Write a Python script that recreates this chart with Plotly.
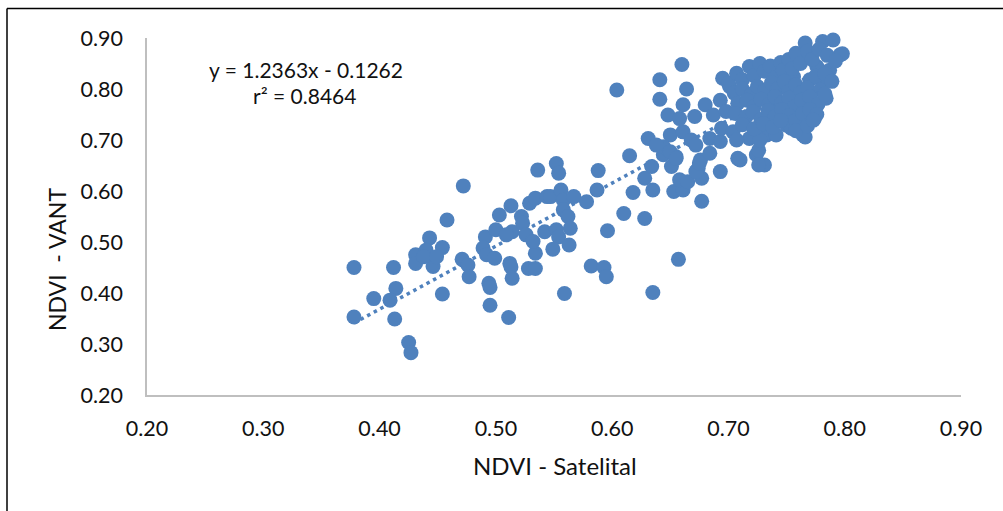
import plotly.graph_objects as go

# NDVI - Satelital (x) and NDVI - VANT (y)
sat = [
    0.378, 0.378, 0.412, 0.414, 0.409, 0.395, 0.413, 0.425, 0.427,
    0.443, 0.454, 0.431, 0.431, 0.440, 0.446, 0.438, 0.449,
    0.458, 0.472, 0.454, 0.471, 0.476, 0.477, 0.494, 0.495, 0.495, 0.511,
    0.491, 0.489, 0.492, 0.499, 0.503, 0.500, 0.513, 0.514, 0.509,
    0.512, 0.513, 0.514, 0.522, 0.523, 0.526, 0.528, 0.534, 0.534, 0.532, 0.529, 0.534, 0.536, 0.542, 0.544,
    0.552, 0.554, 0.588, 0.615,
    0.547, 0.556, 0.558, 0.567, 0.578,
    0.558, 0.562, 0.564, 0.552, 0.554, 0.549, 0.563,
    0.559, 0.582, 0.593, 0.595, 0.596, 0.610, 0.628, 0.587, 0.618, 0.628, 0.634, 0.635, 0.657, 0.635,
    0.653, 0.661, 0.658, 0.665, 0.677, 0.677, 0.674, 0.676, 0.644, 0.655, 0.651,
    0.660, 0.641, 0.641, 0.664, 0.604,
    0.648, 0.658, 0.661, 0.671, 0.680, 0.693, 0.687, 0.698, 0.695, 0.701,
    0.631, 0.650, 0.661, 0.668, 0.644, 0.650, 0.655, 0.638, 0.672, 0.684, 0.672, 0.693, 0.684, 0.693,
    0.694, 0.704, 0.708, 0.710,
    0.724, 0.731, 0.726, 0.718, 0.733, 0.741, 0.750, 0.764,
    0.726, 0.727, 0.707, 0.675,
    0.766, 0.781, 0.790, 0.796, 0.787, 0.761, 0.756, 0.770, 0.784, 0.774, 0.766, 0.754, 0.764, 0.781, 0.776, 0.798,
    0.700, 0.707, 0.712, 0.718, 0.722, 0.727, 0.731, 0.736, 0.740, 0.745, 0.747, 0.752, 0.755, 0.758, 0.762,
    0.768, 0.772, 0.778, 0.785, 0.792,
    0.705, 0.712, 0.720, 0.725, 0.731, 0.737, 0.742, 0.748, 0.752, 0.758, 0.762, 0.768, 0.775, 0.779, 0.783, 0.789,
    0.708, 0.716, 0.722, 0.728, 0.735, 0.740, 0.746, 0.752, 0.757, 0.763, 0.770, 0.777, 0.783,
    0.706, 0.715, 0.721, 0.728, 0.734, 0.740, 0.746, 0.752, 0.758, 0.764, 0.770, 0.776,
    0.712, 0.722, 0.730, 0.738, 0.745, 0.758, 0.768, 0.773,
]
vant = [
    0.450, 0.353, 0.450, 0.409, 0.386, 0.389, 0.349, 0.303, 0.283,
    0.508, 0.489, 0.475, 0.458, 0.484, 0.452, 0.471, 0.471,
    0.543, 0.610, 0.398, 0.466, 0.455, 0.432, 0.419, 0.411, 0.376, 0.352,
    0.510, 0.488, 0.475, 0.468, 0.553, 0.524, 0.571, 0.520, 0.514,
    0.458, 0.451, 0.429, 0.550, 0.537, 0.514, 0.448, 0.448, 0.478, 0.501, 0.576, 0.586, 0.641, 0.520, 0.589,
    0.654, 0.635, 0.640, 0.669,
    0.589, 0.602, 0.582, 0.589, 0.579,
    0.563, 0.550, 0.527, 0.524, 0.510, 0.486, 0.494,
    0.399, 0.453, 0.450, 0.432, 0.522, 0.556, 0.546, 0.602, 0.597, 0.625, 0.648, 0.602, 0.466, 0.401,
    0.599, 0.602, 0.622, 0.618, 0.580, 0.625, 0.644, 0.661, 0.671, 0.667, 0.648,
    0.848, 0.818, 0.780, 0.800, 0.798,
    0.749, 0.742, 0.769, 0.746, 0.769, 0.778, 0.749, 0.756, 0.821, 0.805,
    0.703, 0.710, 0.716, 0.700, 0.687, 0.677, 0.664, 0.690, 0.690, 0.674, 0.638, 0.638, 0.703, 0.697,
    0.723, 0.716, 0.664, 0.661,
    0.671, 0.651, 0.651, 0.703, 0.710, 0.710, 0.729, 0.710,
    0.680, 0.700, 0.700, 0.655,
    0.890, 0.893, 0.896, 0.867, 0.837, 0.863, 0.824, 0.818, 0.782, 0.742, 0.706, 0.723, 0.765, 0.811, 0.844, 0.869,
    0.812, 0.831, 0.818, 0.844, 0.826, 0.850, 0.835, 0.845, 0.822, 0.852, 0.837, 0.858, 0.840, 0.870, 0.850,
    0.874, 0.858, 0.878, 0.866, 0.855,
    0.792, 0.800, 0.790, 0.805, 0.796, 0.812, 0.800, 0.815, 0.795, 0.808, 0.792, 0.802, 0.825, 0.798, 0.830, 0.815,
    0.772, 0.778, 0.765, 0.780, 0.770, 0.785, 0.773, 0.782, 0.765, 0.778, 0.785, 0.770, 0.790,
    0.752, 0.745, 0.755, 0.740, 0.758, 0.745, 0.760, 0.748, 0.738, 0.752, 0.760, 0.750,
    0.730, 0.722, 0.732, 0.725, 0.738, 0.718, 0.728, 0.739,
]

slope = 1.2363
intercept = -0.1262
eq_text = "y = 1.2363x - 0.1262"
r2_text = "r² = 0.8464"
x_title = "NDVI - Satelital"
y_title = "NDVI\u00a0\u00a0- VANT"
tick_vals = [0.2, 0.3, 0.4, 0.5, 0.6, 0.7, 0.8, 0.9]

BLUE = "#4F81BD"
FONT = "Lato"
TXT = "#111111"

x_lo, x_hi = min(sat), max(sat)
trend_x = [x_lo, x_hi]
trend_y = [slope * v + intercept for v in trend_x]

fig = go.Figure()
fig.add_trace(go.Scatter(
    x=trend_x, y=trend_y, mode="lines",
    line=dict(color=BLUE, width=3.5, dash="3.5px,4px"),
    hoverinfo="skip", showlegend=False, cliponaxis=False,
))
fig.add_trace(go.Scatter(
    x=sat, y=vant, mode="markers",
    marker=dict(color=BLUE, size=15, line=dict(width=0)),
    showlegend=False, cliponaxis=False,
))

axis_common = dict(
    range=[0.2, 0.9], tickvals=tick_vals, tickformat=".2f",
    showgrid=False, zeroline=False, showline=True,
    linecolor="#BFBFBF", linewidth=1.5,
    ticks="outside", tickcolor="rgba(0,0,0,0)",
    tickfont=dict(family=FONT, size=21.5, color=TXT),
)
fig.update_xaxes(**axis_common, ticklen=13)
fig.update_yaxes(**axis_common, ticklen=18)

L, R, T, B = 147, 42, 38, 116
W, H = 1003, 511
pw, ph = W - L - R, H - T - B

def px_x(p):
    return (p - L) / pw

def px_y(p):
    return (H - B - p) / ph

fig.add_annotation(x=0.3367, y=0.8390, xref="x", yref="y", text=eq_text,
                   showarrow=False, font=dict(family=FONT, size=21, color=TXT),
                   xanchor="center", yanchor="middle")
fig.add_annotation(x=0.3357, y=0.7880, xref="x", yref="y", text=r2_text,
                   showarrow=False, font=dict(family=FONT, size=21, color=TXT),
                   xanchor="center", yanchor="middle")
fig.add_annotation(x=px_x(555), y=px_y(465), xref="paper", yref="paper", text=x_title,
                   showarrow=False, font=dict(family=FONT, size=24, color=TXT),
                   xanchor="center", yanchor="middle")
fig.add_annotation(x=px_x(57), y=px_y(260), xref="paper", yref="paper", text=y_title,
                   showarrow=False, textangle=-90, font=dict(family=FONT, size=23, color=TXT),
                   xanchor="center", yanchor="middle")

# outer chart frame (left and top edges visible)
fig.add_shape(type="line", xref="paper", yref="paper",
              x0=px_x(7), x1=px_x(7), y0=px_y(530), y1=px_y(8.5),
              line=dict(color="black", width=1.5))
fig.add_shape(type="line", xref="paper", yref="paper",
              x0=px_x(7), x1=px_x(1020), y0=px_y(8.5), y1=px_y(8.5),
              line=dict(color="black", width=1.5))

fig.update_layout(
    width=W, height=H,
    margin=dict(l=L, r=R, t=T, b=B),
    paper_bgcolor="white", plot_bgcolor="white",
    font=dict(family=FONT),
    showlegend=False,
)
fig.write_html("out.html")
